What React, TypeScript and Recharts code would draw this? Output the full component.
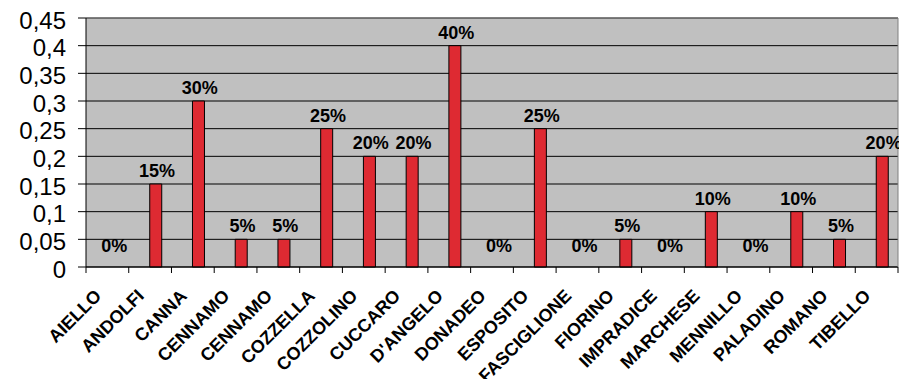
import React from "react";
import {
  ComposedChart,
  Bar,
  Line,
  XAxis,
  YAxis,
  CartesianGrid,
  LabelList,
  ReferenceLine,
} from "recharts";

const categories = [
  "AIELLO",
  "ANDOLFI",
  "CANNA",
  "CENNAMO",
  "CENNAMO",
  "COZZELLA",
  "COZZOLINO",
  "CUCCARO",
  "D'ANGELO",
  "DONADEO",
  "ESPOSITO",
  "FASCIGLIONE",
  "FIORINO",
  "IMPRADICE",
  "MARCHESE",
  "MENNILLO",
  "PALADINO",
  "ROMANO",
  "TIBELLO",
];

const shares = [
  0, 0.15, 0.3, 0.05, 0.05, 0.25, 0.2, 0.2, 0.4, 0, 0.25, 0, 0.05, 0, 0.1, 0,
  0.1, 0.05, 0.2,
];

const yTicks = [0, 0.05, 0.1, 0.15, 0.2, 0.25, 0.3, 0.35, 0.4, 0.45];

const W = 899;
const H = 379;
const LEFT = 86;
const BAR = 12;
const BAND = (W - LEFT - 1) / categories.length;
const FONT = "'Liberation Sans', Arial, sans-serif";

const data = categories.map((name, i) => ({ name, share: shares[i] }));

function formatComma(v: number): string {
  return String(v).replace(".", ",");
}

function CategoryTick(props: any) {
  const { x, y, payload, index } = props;
  const left = x - BAND / 2;
  const ax = x - 5;
  const ay = y + 22;
  return (
    <g>
      <line x1={left} y1={y - 8} x2={left} y2={y - 2} stroke="#000" />
      {index === categories.length - 1 && (
        <line x1={x + BAND / 2} y1={y - 8} x2={x + BAND / 2} y2={y - 2} stroke="#000" />
      )}
      <text
        x={ax}
        y={ay}
        textAnchor="end"
        transform={`rotate(-45, ${ax}, ${ay})`}
        fontFamily={FONT}
        fontWeight="bold"
        fontSize={18}
        fill="#000"
      >
        {payload.value}
      </text>
    </g>
  );
}

// labels hang off the line points (band centre), shifted onto the visible bar
function ValueLabel(props: any) {
  const { x, y, value } = props;
  const lift = value === 0 ? 15 : 7;
  return (
    <text
      x={x + BAR / 2 + 1}
      y={y - lift}
      textAnchor="middle"
      fontFamily={FONT}
      fontWeight="bold"
      fontSize={18}
      fill="#000"
    >
      {Math.round(value * 100) + "%"}
    </text>
  );
}

export default function App() {
  return (
    <div style={{ position: "absolute", left: 0, top: 0, background: "#fff" }}>
      <ComposedChart
        width={W}
        height={H}
        data={data}
        margin={{ top: 18, right: 0, bottom: 0, left: 0 }}
        barGap={0}
        barCategoryGap={0}
      >
        <CartesianGrid
          vertical={false}
          fill="#C0C0C0"
          fillOpacity={1}
          stroke="#000"
        />
        <XAxis
          dataKey="name"
          height={112}
          interval={0}
          tickLine={false}
          axisLine={{ stroke: "#000" }}
          tick={<CategoryTick />}
        />
        <YAxis
          width={LEFT}
          domain={[0, 0.45]}
          ticks={yTicks}
          interval={0}
          tickSize={8}
          tickMargin={12}
          tickFormatter={formatComma}
          axisLine={{ stroke: "#000" }}
          tickLine={{ stroke: "#000" }}
          tick={{ fill: "#000", fontSize: 24, fontFamily: FONT, dy: 2 }}
        />
        <YAxis
          yAxisId="right"
          orientation="right"
          width={1}
          domain={[0, 0.45]}
          tick={false}
          tickLine={false}
          axisLine={{ stroke: "#808080" }}
        />
        <ReferenceLine y={0.45} stroke="#808080" />
        <Bar dataKey="blank" barSize={BAR} isAnimationActive={false} />
        <Bar
          dataKey="share"
          barSize={BAR}
          fill="#DE2A32"
          stroke="#000"
          strokeWidth={1}
          isAnimationActive={false}
        />
        <Line
          dataKey="share"
          stroke="none"
          dot={false}
          activeDot={false}
          isAnimationActive={false}
        >
          <LabelList dataKey="share" content={<ValueLabel />} />
        </Line>
      </ComposedChart>
    </div>
  );
}
